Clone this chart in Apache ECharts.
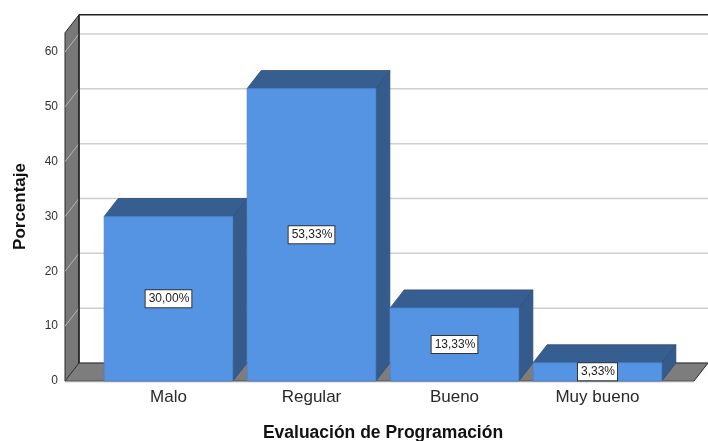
<!DOCTYPE html>
<html>
<head>
<meta charset="utf-8">
<script src="https://cdn.jsdelivr.net/npm/echarts@6/dist/echarts.min.js"></script>
<style>
  html, body { margin: 0; padding: 0; background: #fff; }
  #chart { width: 708px; height: 441px; }
</style>
</head>
<body>
<div id="chart"></div>
<script>
const categories = ['Malo', 'Regular', 'Bueno', 'Muy bueno']
const percentValues = [30.00, 53.33, 13.33, 3.33]
const yTicks = [0, 10, 20, 30, 40, 50, 60]

// depth of the fake 3D (pixels)
const DX = 14
const DY = -18
const WALL_TOP = 63.5
const FONT = '"Liberation Sans", Arial, sans-serif'

const chart = echarts.init(document.getElementById('chart'))

const fmt = v => v.toFixed(2).replace('.', ',') + '%'

// walls, floor and gridlines behind the bars
const renderFrame = (params, api) => {
  const cs = params.coordSys
  const left = cs.x - 32
  const right = cs.x + cs.width + 25
  const y0 = api.coord([0, 0])[1]
  const yTop = api.coord([0, WALL_TOP])[1]
  const children = []
  // back wall
  children.push({
    type: 'rect',
    shape: { x: left + DX, y: yTop + DY, width: right - left, height: y0 - yTop },
    style: { fill: '#fff' }
  })
  yTicks.forEach(t => {
    const y = api.coord([0, t])[1]
    children.push({
      type: 'polyline',
      shape: { points: [[left, y], [left + DX, y + DY], [right + DX, y + DY]] },
      style: { stroke: '#cfcfcf', lineWidth: 1.5, fill: null }
    })
  })
  // left wall
  children.push({
    type: 'polygon',
    shape: { points: [[left, y0], [left, yTop], [left + DX, yTop + DY], [left + DX, y0 + DY]] },
    style: { fill: '#787878', stroke: '#2a2a2a', lineWidth: 1 }
  })
  yTicks.forEach(t => {
    const y = api.coord([0, t])[1]
    children.push({
      type: 'line',
      shape: { x1: left, y1: y, x2: left + DX, y2: y + DY },
      style: { stroke: '#b5b5b5', lineWidth: 1 }
    })
  })
  // floor
  children.push({
    type: 'polygon',
    shape: { points: [[left, y0], [left + DX, y0 + DY], [right + DX, y0 + DY], [right, y0]] },
    style: { fill: '#7d7d7d', stroke: '#2a2a2a', lineWidth: 1 }
  })
  children.push({
    type: 'line',
    shape: { x1: left, y1: y0 + 0.5, x2: right, y2: y0 + 0.5 },
    style: { stroke: '#a0a0a0', lineWidth: 1.5 }
  })
  // top edge of back wall
  children.push({
    type: 'line',
    shape: { x1: left + DX, y1: yTop + DY, x2: right + DX, y2: yTop + DY },
    style: { stroke: '#222', lineWidth: 1.5 }
  })
  children.push({
    type: 'line',
    shape: { x1: left + DX, y1: yTop + DY, x2: left + DX, y2: y0 + DY },
    style: { stroke: '#222', lineWidth: 1.5 }
  })
  return { type: 'group', children }
}

const renderBar = (params, api) => {
  const idx = api.value(0)
  const val = api.value(1)
  const top = api.coord([idx, val])
  const base = api.coord([idx, 0])
  const bw = api.size([1, 0])[0] * 0.9
  const x0 = top[0] - bw / 2
  const x1 = top[0] + bw / 2
  const yt = top[1]
  const yb = base[1]
  return {
    type: 'group',
    children: [
      {
        type: 'polygon',
        shape: { points: [[x1, yb], [x1, yt], [x1 + DX, yt + DY], [x1 + DX, yb + DY]] },
        style: { fill: '#345b8c', stroke: '#2b4d78', lineWidth: 0.8 }
      },
      {
        type: 'polygon',
        shape: { points: [[x0, yt], [x0 + DX, yt + DY], [x1 + DX, yt + DY], [x1, yt]] },
        style: { fill: '#365e90', stroke: '#2b4d78', lineWidth: 0.8 }
      },
      {
        type: 'rect',
        shape: { x: x0, y: yt, width: bw, height: yb - yt },
        style: { fill: '#5494e3', stroke: '#4a82c8', lineWidth: 0.8 }
      },
      {
        type: 'text',
        style: {
          text: fmt(val),
          x: top[0],
          y: (yt + yb) / 2,
          align: 'center',
          verticalAlign: 'middle',
          fontFamily: FONT,
          fontSize: 12,
          fill: '#222',
          backgroundColor: '#fff',
          borderColor: '#333',
          borderWidth: 1,
          padding: [3, 2, 2, 3]
        }
      }
    ]
  }
}

const option = {
  animation: false,
  grid: { left: 97, right: 39, top: 52, bottom: 60, outerBoundsMode: 'none' },
  xAxis: {
    type: 'category',
    data: categories,
    axisLine: { show: false },
    axisTick: { show: false },
    axisLabel: { fontFamily: FONT, fontSize: 17, color: '#2a2a2a', margin: 8 },
    name: 'Evaluación de Programación',
    nameLocation: 'middle',
    nameGap: 43,
    nameTextStyle: { fontFamily: FONT, fontSize: 17.5, fontWeight: 'bold', color: '#111' }
  },
  yAxis: {
    type: 'value',
    min: 0,
    max: 60,
    interval: 10,
    offset: 32,
    axisLine: { show: false },
    axisTick: { show: false },
    splitLine: { show: false },
    axisLabel: { fontFamily: FONT, fontSize: 12, color: '#333', margin: 7 },
    name: 'Porcentaje',
    nameLocation: 'middle',
    nameGap: 36,
    nameTextStyle: { fontFamily: FONT, fontSize: 17, fontWeight: 'bold', color: '#111', padding: [0, 0, 0, 20] }
  },
  series: [
    {
      type: 'custom',
      silent: true,
      z: 1,
      data: [[0, 0]],
      renderItem: renderFrame
    },
    {
      type: 'custom',
      z: 3,
      data: percentValues.map((v, i) => [i, v]),
      renderItem: renderBar
    }
  ]
}

chart.setOption(option)
</script>
</body>
</html>
